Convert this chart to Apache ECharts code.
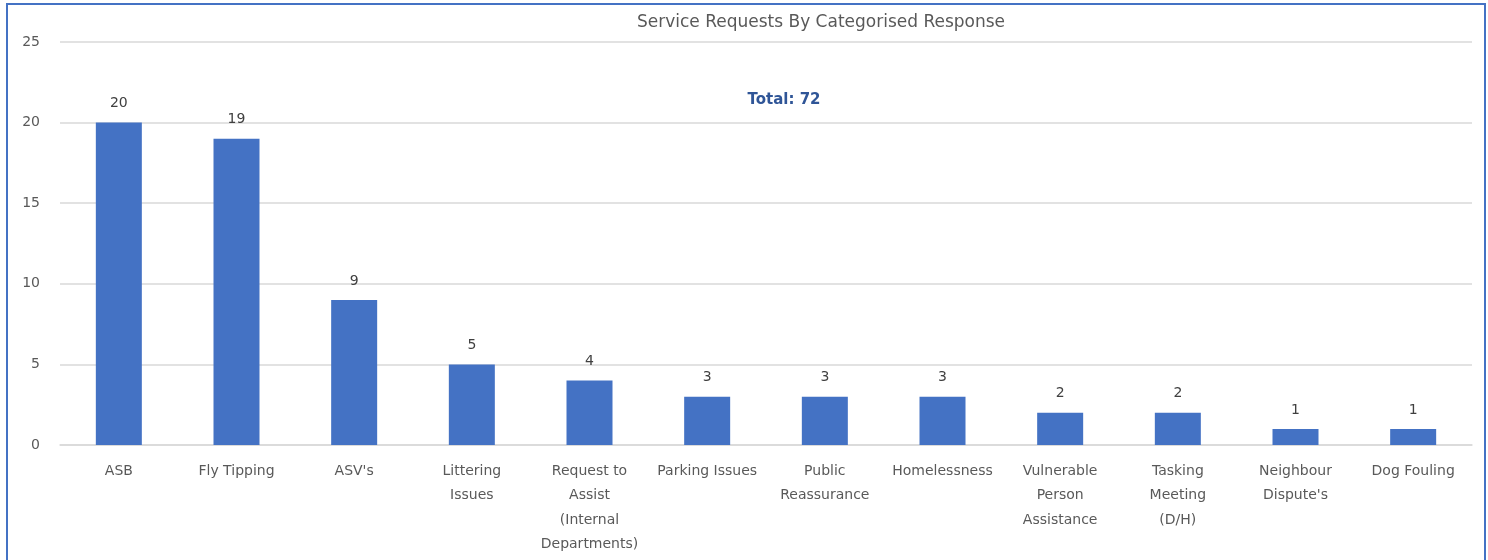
<!DOCTYPE html>
<html><head><meta charset="utf-8">
<script src="https://cdn.jsdelivr.net/npm/echarts@6/dist/echarts.min.js"></script>
<style>
html,body{margin:0;padding:0;background:#fff;}
#frame{position:absolute;left:6px;top:3px;width:1480px;height:570px;border:2px solid #4472C4;box-sizing:border-box;}
#c{position:absolute;left:0;top:0;width:1488px;height:560px;}
</style></head>
<body>
<div id="frame"></div>
<div id="c"></div>
<script>
const categories = ["ASB","Fly Tipping","ASV's","Littering\nIssues","Request to\nAssist\n(Internal\nDepartments)","Parking Issues","Public\nReassurance","Homelessness","Vulnerable\nPerson\nAssistance","Tasking\nMeeting\n(D/H)","Neighbour\nDispute's","Dog Fouling"];
const values = [20,19,9,5,4,3,3,3,2,2,1,1];
const yTicks = [0,5,10,15,20,25];
const titleText = "Service Requests By Categorised Response";
const totalText = "Total: 72";
const FONT = 'DejaVu Sans';

const chart = echarts.init(document.getElementById('c'));
chart.setOption({
  animation:false,
  textStyle:{fontFamily:FONT},
  title:[
    {text:titleText,left:816,top:9,textAlign:'center',textStyle:{fontFamily:FONT,fontSize:17,fontWeight:'normal',color:'#595959'}},
    {text:totalText,left:779,top:88,textAlign:'center',textStyle:{fontFamily:FONT,fontSize:15,fontWeight:'bold',color:'#2F5597'}}
  ],
  grid:{left:60,right:16,top:42,bottom:115,containLabel:false},
  xAxis:{type:'category',data:categories,
    axisLine:{lineStyle:{color:'#D9D9D9',width:1.5}},axisTick:{show:false},
    axisLabel:{interval:0,color:'#595959',fontSize:14,lineHeight:24.5,margin:14,fontFamily:FONT}},
  yAxis:{type:'value',min:yTicks[0],max:yTicks[yTicks.length-1],interval:5,
    axisLine:{show:false},axisTick:{show:false},
    splitLine:{lineStyle:{color:'#D9D9D9',width:1.5}},
    axisLabel:{color:'#595959',fontSize:14,margin:20,fontFamily:FONT}},
  series:[{type:'bar',data:values,barWidth:46,
    itemStyle:{color:'#4472C4'},
    label:{show:true,position:'top',color:'#404040',fontSize:14,distance:12,fontFamily:FONT}}]
});
</script>
</body></html>
